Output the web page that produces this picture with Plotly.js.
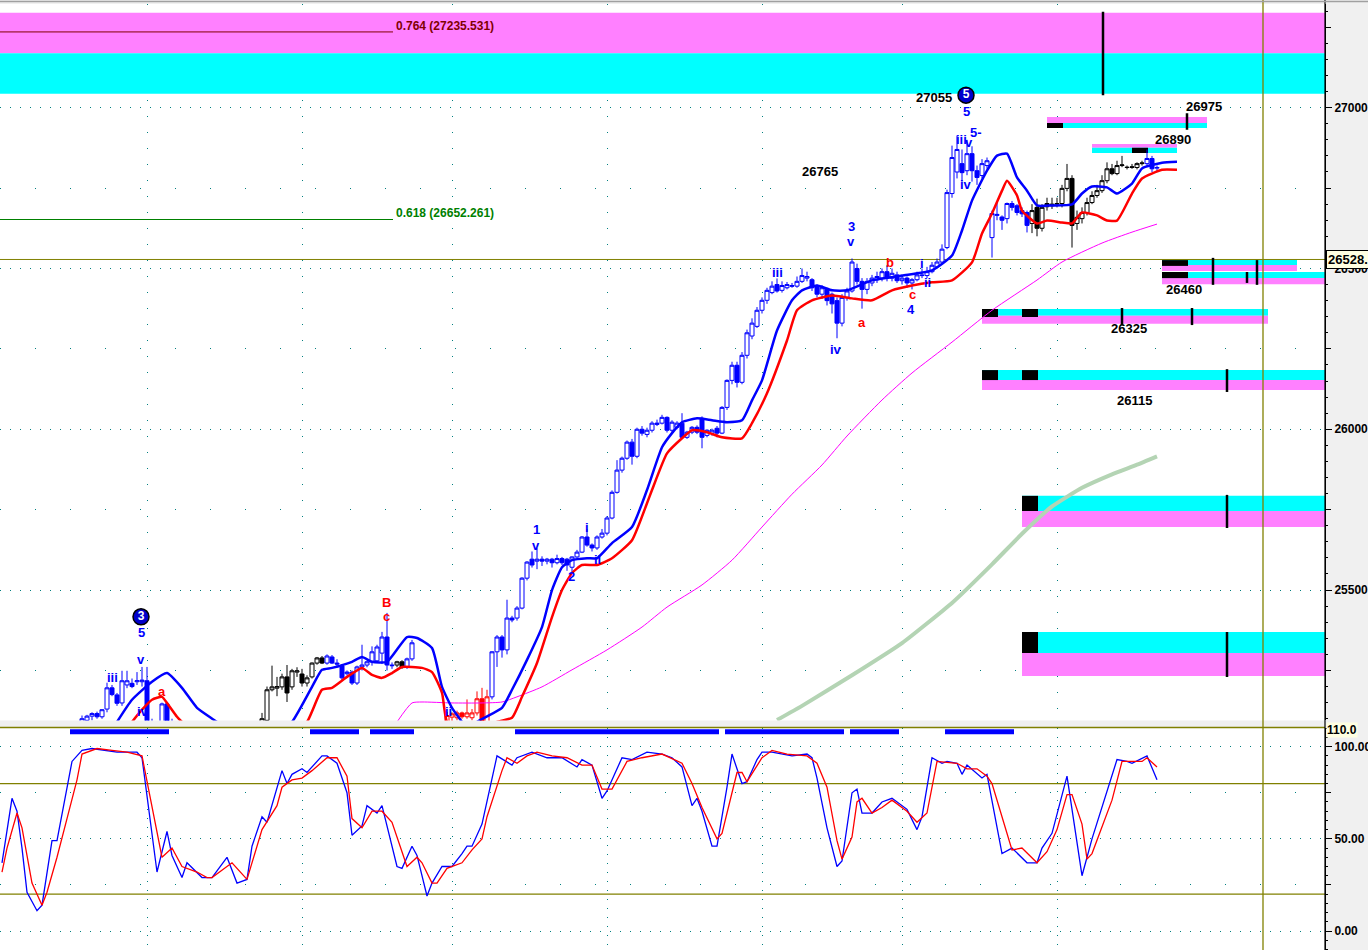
<!DOCTYPE html>
<html><head><meta charset="utf-8">
<script src="https://cdn.plot.ly/plotly-3.0.1.min.js"></script>
<style>html,body{margin:0;padding:0;background:#f0f0f0;}#chart{width:1368px;height:950px;}</style>
</head><body><div id="chart"></div>
<script>
// ---------- price bars (index 0..231) ----------
const barOpen = [
24980,24990,25010,25020,25015,24990,24975,24965,24955,24960,
24975,24990,25000,25020,25040,25060,25090,25095,25108,25116,
25106,25130,25196,25174,25149,25205,25210,25215,25215,25218,
25060,25040,25090,25146,25090,25030,25020,25010,25025,25010,
25000,24995,24990,24995,25015,25020,25030,25010,24995,25000,
25025,25050,25070,25095,25190,25195,25199,25230,25199,25245,
25239,25211,25230,25273,25289,25273,25292,25273,25264,25240,
25245,25211,25261,25267,25277,25280,25304,25354,25267,25267,
25277,25261,25286,25070,25060,25045,25030,25040,25060,25075,
25105,25103,25118,25106,25103,25118,25162,25090,25168,25308,
25354,25314,25413,25413,25444,25537,25596,25590,25596,25590,
25596,25585,25598,25596,25571,25603,25618,25665,25640,25631,
25665,25677,25724,25804,25873,25910,25960,25916,26000,25984,
25997,26015,26019,26037,25997,26006,26019,25975,25991,26006,
26034,25981,25988,26003,25988,26068,26152,26199,26146,26230,
26290,26320,26370,26401,26425,26450,26432,26440,26447,26445,
26460,26470,26465,26445,26420,26435,26420,26400,26330,26410,
26430,26500,26460,26435,26455,26465,26470,26490,26470,26480,
26462,26470,26455,26465,26480,26478,26490,26505,26520,26565,
26733,26800,26826,26804,26857,26804,26789,26820,26596,26665,
26660,26655,26702,26695,26680,26674,26640,26690,26625,26702,
26695,26700,26702,26749,26780,26640,26655,26674,26705,26727,
26742,26773,26810,26795,26820,26815,26814,26814,26826,26826,
26842,26812];
const barHigh = [
25000,25015,25030,25028,25020,24995,24980,24970,24968,24980,
24995,25005,25025,25045,25065,25080,25110,25112,25120,25122,
25130,25212,25205,25180,25249,25249,25225,25245,25261,25261,
25100,25080,25150,25150,25100,25050,25040,25035,25040,25020,
25015,25010,25005,25020,25030,25040,25035,25020,25010,25030,
25055,25080,25118,25200,25265,25230,25240,25267,25255,25260,
25255,25235,25275,25292,25295,25300,25298,25285,25270,25250,
25250,25265,25330,25280,25325,25330,25370,25429,25275,25280,
25282,25290,25345,25080,25075,25060,25050,25070,25080,25121,
25120,25125,25122,25160,25130,25185,25196,25190,25310,25360,
25360,25470,25420,25450,25540,25590,25620,25630,25605,25600,
25600,25610,25603,25600,25605,25625,25668,25690,25645,25670,
25690,25730,25810,25904,25915,25965,25970,26005,26010,26005,
26025,26030,26045,26040,26028,26025,26050,25995,26010,26012,
26040,26000,26002,26010,26072,26155,26210,26210,26240,26310,
26345,26380,26410,26440,26460,26469,26460,26458,26455,26475,
26500,26490,26470,26450,26448,26440,26425,26410,26420,26440,
26531,26515,26470,26470,26480,26490,26500,26510,26500,26490,
26478,26475,26470,26490,26500,26505,26520,26531,26575,26745,
26882,26913,26870,26900,26880,26820,26840,26845,26680,26705,
26665,26705,26710,26700,26690,26680,26700,26717,26700,26720,
26720,26720,26760,26825,26790,26680,26690,26720,26740,26760,
26790,26830,26825,26835,26850,26820,26825,26830,26835,26870,
26850,26820];
const barLow = [
24970,24985,25005,25005,24985,24970,24960,24945,24950,24955,
24970,24980,24995,25015,25035,25055,25070,25080,25095,25100,
25100,25120,25170,25140,25140,25195,25195,25205,25200,25030,
25020,25000,25080,25080,25020,25010,25000,25000,25005,24990,
24985,24980,24975,24990,25005,25010,25000,24990,24985,24995,
25020,25040,25060,25080,25185,25170,25190,25152,25190,25230,
25200,25200,25225,25268,25270,25268,25270,25260,25220,25235,
25205,25205,25250,25260,25265,25275,25270,25250,25255,25260,
25255,25255,25280,25040,25030,25020,25015,25030,25040,25060,
25090,25095,25100,25100,25095,25110,25080,25085,25160,25261,
25290,25300,25400,25405,25440,25530,25570,25565,25575,25580,
25570,25580,25578,25560,25555,25600,25615,25635,25620,25625,
25660,25670,25720,25800,25865,25905,25890,25910,25980,25975,
25990,26010,26015,25990,25990,26000,25970,25970,25985,25985,
25941,25975,25980,25975,25985,26060,26140,26130,26140,26220,
26280,26315,26360,26390,26420,26425,26425,26435,26440,26440,
26455,26460,26430,26410,26405,26385,26360,26283,26320,26400,
26425,26450,26375,26420,26445,26455,26460,26460,26460,26455,
26450,26440,26435,26460,26470,26470,26485,26500,26515,26560,
26720,26780,26770,26790,26770,26760,26780,26810,26534,26650,
26620,26640,26680,26665,26660,26612,26610,26600,26615,26680,
26685,26690,26690,26740,26565,26620,26640,26665,26700,26720,
26735,26765,26790,26790,26815,26808,26810,26808,26820,26820,
26800,26800];
const barClose = [
24990,25010,25020,25015,24990,24975,24965,24955,24960,24975,
24990,25000,25020,25040,25060,25075,25100,25108,25116,25106,
25128,25196,25175,25148,25218,25218,25200,25218,25220,25060,
25040,25070,25146,25090,25030,25020,25010,25025,25010,25000,
24995,24990,24995,25015,25020,25030,25010,24995,25000,25025,
25050,25070,25100,25190,25199,25200,25230,25180,25249,25249,
25211,25227,25273,25289,25273,25295,25273,25270,25227,25245,
25211,25261,25267,25277,25308,25323,25354,25267,25265,25277,
25261,25286,25336,25060,25045,25030,25040,25060,25075,25110,
25115,25118,25106,25118,25118,25162,25090,25168,25308,25354,
25314,25413,25407,25444,25537,25587,25578,25596,25590,25596,
25585,25598,25585,25578,25603,25618,25665,25640,25631,25665,
25677,25724,25804,25873,25910,25960,25916,26000,25988,25997,
26019,26019,26037,25997,26022,26019,25975,25991,26006,25991,
25975,25997,25997,25988,26068,26152,26199,26146,26230,26300,
26330,26370,26401,26432,26445,26430,26447,26450,26445,26460,
26478,26475,26440,26420,26440,26400,26390,26330,26410,26430,
26520,26460,26435,26460,26470,26475,26490,26470,26485,26462,
26470,26455,26465,26480,26478,26490,26510,26520,26560,26736,
26845,26870,26798,26857,26804,26783,26826,26835,26671,26668,
26650,26702,26690,26674,26670,26634,26680,26625,26690,26692,
26700,26702,26749,26780,26634,26659,26674,26705,26727,26742,
26773,26810,26795,26820,26822,26814,26816,26826,26828,26842,
26810,26814];
// colour regime of the bars: [first bar, last bar, group]
const colorRuns = [[0,34,'b'],[35,64,'k'],[65,78,'b'],[79,80,'k'],[81,82,'b'],[83,87,'k'],[88,97,'r'],[98,205,'b'],[206,228,'k'],[229,231,'b']];

// ---------- indicator lines: [bar, value] ----------
const upperBand = [[23,25090],[26,25159],[30,25215],[33,25242],[36,25196],[39,25134],[43,25090],[47,25040],[54,25040],[58,25090],[62,25199],[64,25252],[66,25258],[70,25277],[72,25292],[74,25277],[77,25277],[81,25354],[83,25351],[86,25320],[88,25199],[90,25134],[92,25090],[93,25065],[94,25070],[95,25090],[100,25134],[102,25190],[105,25283],[108,25385],[110,25500],[112,25571],[114,25593],[117,25599],[119,25599],[122,25646],[126,25696],[129,25811],[132,25944],[134,25988],[136,26022],[139,26034],[142,26028],[145,26022],[148,26028],[150,26090],[152,26152],[155,26307],[158,26401],[160,26432],[163,26447],[166,26432],[169,26432],[174,26463],[180,26478],[186,26494],[190,26540],[192,26618],[194,26711],[197,26804],[199,26851],[201,26857],[203,26783],[205,26742],[207,26696],[210,26696],[214,26699],[216,26733],[218,26755],[221,26752],[223,26733],[226,26764],[228,26811],[232,26829],[235,26832]];
const lowerBand = [[26,25090],[28,25128],[30,25159],[32,25168],[33,25149],[35,25106],[36,25090],[40,25040],[57,25040],[61,25090],[64,25190],[66,25196],[69,25230],[72,25258],[74,25236],[76,25227],[78,25242],[80,25261],[84,25258],[86,25245],[88,25180],[89,25090],[93,25040],[99,25090],[102,25103],[104,25168],[107,25273],[110,25416],[112,25500],[114,25553],[116,25578],[119,25578],[122,25599],[126,25655],[129,25770],[130,25811],[133,25925],[136,25972],[138,25997],[141,25991],[144,25975],[148,25972],[150,26019],[153,26112],[157,26276],[159,26370],[162,26401],[166,26416],[170,26407],[174,26401],[178,26432],[182,26447],[186,26457],[190,26463],[194,26519],[196,26609],[198,26671],[200,26742],[201,26773],[203,26727],[204,26680],[207,26640],[209,26649],[212,26643],[214,26640],[216,26674],[219,26665],[221,26649],[223,26649],[226,26733],[228,26780],[232,26807],[235,26807]];
const slowMA = [[79,25090],[82,25149],[84,25152],[90,25149],[96,25149],[100,25152],[103,25168],[108,25199],[114,25252],[121,25314],[128,25385],[133,25447],[140,25516],[146,25593],[152,25696],[158,25798],[164,25889],[169,25979],[176,26091],[182,26175],[190,26271],[198,26370],[207,26464],[212,26520],[220,26579],[226,26613],[231,26638]];
const longMA = [[155,25096],[160,25140],[170,25235],[180,25335],[190,25460],[198,25580],[204,25675],[210,25760],[216,25818],[222,25860],[227,25890],[231,25916]];

// ---------- stochastic ----------
const stochK = [[0,37],[2,72],[3,65],[4,45],[5,21],[7,11],[8,14],[10,49],[11,49],[14,92],[16,98],[18,99],[23,97],[27,97],[28,94],[31,32],[33,54],[34,41],[36,29],[37,37],[40,29],[42,29],[45,40],[47,26],[49,28],[50,46],[52,62],[53,59],[56,87],[57,80],[58,85],[60,88],[61,86],[63,92],[64,95],[65,95],[67,91],[69,75],[70,52],[72,57],[73,68],[75,64],[76,68],[79,35],[80,34],[82,46],[83,41],[85,19],[86,26],[88,35],[90,35],[92,42],[93,46],[94,46],[96,58],[99,95],[102,90],[103,94],[106,97],[109,94],[112,94],[115,89],[116,93],[118,90],[120,72],[121,76],[124,94],[126,93],[129,97],[132,96],[134,94],[136,89],[138,68],[139,72],[140,65],[142,46],[143,46],[145,78],[146,96],[148,80],[149,81],[151,93],[152,97],[154,97],[158,95],[161,96],[162,94],[163,83],[165,56],[167,35],[168,38],[170,75],[171,77],[172,64],[174,64],[176,70],[178,72],[181,66],[183,55],[184,62],[186,94],[188,91],[189,92],[191,91],[192,85],[193,90],[196,83],[197,85],[200,42],[202,45],[205,37],[207,37],[208,45],[210,53],[213,84],[216,30],[218,50],[223,93],[225,92],[226,91],[229,95],[231,82]];
const stochD = [[0,32],[1,45],[3,64],[4,56],[6,26],[8,14],[9,21],[11,40],[13,61],[15,82],[16,96],[19,99],[22,98],[25,97],[28,95],[29,81],[31,52],[32,40],[34,45],[36,35],[39,32],[41,29],[42,29],[46,37],[49,28],[52,55],[55,68],[56,78],[58,82],[60,83],[62,87],[65,94],[67,94],[69,84],[70,61],[72,56],[74,65],[76,65],[78,59],[81,35],[83,40],[84,37],[86,26],[87,26],[89,34],[92,37],[94,44],[96,50],[97,62],[100,87],[101,94],[103,91],[105,95],[107,97],[110,95],[113,94],[116,90],[118,90],[120,77],[122,77],[125,92],[128,94],[132,96],[136,91],[138,80],[140,67],[143,50],[144,53],[146,75],[147,86],[148,86],[149,81],[152,94],[154,98],[157,96],[161,95],[163,91],[165,78],[167,49],[168,39],[170,51],[171,70],[172,72],[174,64],[176,67],[178,71],[181,65],[183,59],[185,64],[187,92],[191,91],[193,88],[195,88],[197,84],[198,80],[200,62],[202,44],[204,45],[207,37],[209,43],[211,55],[213,74],[214,74],[216,58],[217,39],[218,42],[222,71],[224,92],[228,92],[229,94],[231,89]];
const signalStart = [14,62,74,103,145,170,189];
const signalEnd   = [33,71,82,143,168,179,202];

// ---------- levels / zones ----------
const currentPrice = 26528;
const stochTop = 110.0;
const fibLevels = [27235.531, 26652.261];
const fibNames  = ['0.764 (27235.531)', '0.618 (26652.261)'];
const fibColors = ['#800000', '#008000'];
const fibEndBar = 78.2;
const zoneStart = [-0.4, 209, 218, 232, 232, 196, 196, 204, 204];
const zoneEnd   = [264.6, 241, 235, 259, 264.6, 253.2, 264.6, 264.6, 264.6];
const zoneHi    = [27295, 26971, 26887, 26526, 26489, 26374, 26184, 25793, 25370];
const zoneMid   = [27169, 26952, 26875, 26511, 26470, 26353, 26153, 25746, 25304];
const zoneLo    = [27043, 26937, 26859, 26492, 26451, 26328, 26122, 25696, 25233];
const zoneUpper = ['m','m','m','c','c','c','c','c','c'];
const blockStart = [209, 226, 232, 232, 196, 204, 196, 204, 204, 204];
const blockEnd   = [212.2, 229.2, 237.2, 237.2, 199.2, 207.2, 199.2, 207.2, 207.2, 207.2];
const blockHi    = [26952, 26875, 26526, 26489, 26374, 26374, 26184, 26184, 25793, 25370];
const blockLo    = [26937, 26859, 26508, 26470, 26349, 26349, 26153, 26153, 25746, 25304];
const markBar = [220.2, 237, 242.2, 249, 251, 224, 238, 245, 245, 245];
const markHi  = [27298, 26983, 26533, 26489, 26526, 26377, 26377, 26187, 25796, 25370];
const markLo  = [27039, 26931, 26449, 26455, 26449, 26324, 26324, 26116, 25693, 25230];
const gridBars = [29, 60, 90, 121, 152, 180, 211];
const cursorBar = 252.2;

// ---------- wave labels ----------
const labelText  = ['27055','5','26765','26975','26890','26460','26325','26115','iii','v','5-','iv','3','v','iii','iv','a','b','c','4','i','ii','1','v','i','2','ii','B','c','5','v','iii','a','iv','ii'];
const labelBar   = [186.4,192.8,163.6,240.4,234.2,236.4,225.4,226.4,191.8,193.4,194.8,192.8,169.8,169.8,155,166.8,172,177.6,182,181.8,184,185,106.8,106.8,117,113.8,119,76.8,76.8,27.8,27.8,22,32,28.2,89.2];
const labelPrice = [27033,26989,26803,27005,26900,26436,26312,26091,26900,26893,26924,26762,26629,26585,26489,26247,26331,26520,26418,26371,26517,26455,25687,25640,25696,25541,25594,25460,25417,25367,25283,25227,25184,25122,25122];
const labelColor = ['k','b','k','k','k','k','k','k','b','b','b','b','b','b','b','b','r','r','r','b','b','b','b','b','b','b','b','r','r','b','b','b','r','b','b'];
const circleText  = ['5','3'];
const circleBar   = [192.8, 27.8];
const circlePrice = [27039, 25417];

// ---------- drawing ----------
const FONT = 'Liberation Sans, Arial, sans-serif';
const COL = {b:'#0000ff', k:'#000000', r:'#ff0000'};
const PINK = '#ff80ff', CYAN = '#00ffff', OLIVE = '#808000', TEAL = '#008080';

const barColor = [];
colorRuns.forEach(([a, b, g]) => { for (let i = a; i <= b; i++) barColor[i] = g; });

const traces = [];
traces.push({type:'scatter', mode:'lines', x:longMA.map(p=>p[0]), y:longMA.map(p=>p[1]), line:{color:'#b4d4b4', width:4, shape:'spline', smoothing:0.4}, xaxis:'x', yaxis:'y', hoverinfo:'skip'});
traces.push({type:'scatter', mode:'lines', x:slowMA.map(p=>p[0]), y:slowMA.map(p=>p[1]), line:{color:'#ff00ff', width:1, shape:'spline', smoothing:0.6}, xaxis:'x', yaxis:'y', hoverinfo:'skip'});
['k','r','b'].forEach(g => {
  const idx = [];
  barOpen.forEach((_, i) => { if (barColor[i] === g) idx.push(i); });
  traces.push({type:'candlestick', x:idx, open:idx.map(i=>barOpen[i]), high:idx.map(i=>barHigh[i]), low:idx.map(i=>barLow[i]), close:idx.map(i=>barClose[i]),
    increasing:{line:{color:COL[g], width:1}, fillcolor:'#ffffff'}, decreasing:{line:{color:COL[g], width:1}, fillcolor:COL[g]},
    whiskerwidth:0, xaxis:'x', yaxis:'y', hoverinfo:'skip', showlegend:false});
});
traces.push({type:'scatter', mode:'lines', x:upperBand.map(p=>p[0]), y:upperBand.map(p=>p[1]), line:{color:'#0000ff', width:2.5, shape:'spline', smoothing:0.5}, xaxis:'x', yaxis:'y', hoverinfo:'skip'});
traces.push({type:'scatter', mode:'lines', x:lowerBand.map(p=>p[0]), y:lowerBand.map(p=>p[1]), line:{color:'#ff0000', width:2.5, shape:'spline', smoothing:0.5}, xaxis:'x', yaxis:'y', hoverinfo:'skip'});
traces.push({type:'scatter', mode:'markers+text', x:circleBar, y:circlePrice, text:circleText.map(t=>'<b>'+t+'</b>'), textposition:'middle center',
  textfont:{family:FONT, size:12, color:'#ffffff'}, marker:{size:16, color:'#0000cc', line:{color:'#000000', width:1.5}}, xaxis:'x', yaxis:'y', hoverinfo:'skip', cliponaxis:false});
traces.push({type:'scatter', mode:'lines', x:stochK.map(p=>p[0]), y:stochK.map(p=>p[1]), line:{color:'#0000ff', width:1.3}, xaxis:'x2', yaxis:'y2', hoverinfo:'skip'});
traces.push({type:'scatter', mode:'lines', x:stochD.map(p=>p[0]), y:stochD.map(p=>p[1]), line:{color:'#ff0000', width:1.3}, xaxis:'x2', yaxis:'y2', hoverinfo:'skip'});
traces.push({type:'scatter', mode:'markers', x:[0], y:[null], xaxis:'x', yaxis:'y3', hoverinfo:'skip'});
traces.push({type:'scatter', mode:'markers', x:[0], y:[null], xaxis:'x2', yaxis:'y4', hoverinfo:'skip'});

const shapes = [];
zoneStart.forEach((s, k) => {
  const up = zoneUpper[k] === 'm' ? PINK : CYAN, lo = zoneUpper[k] === 'm' ? CYAN : PINK;
  shapes.push({type:'rect', layer:'between', xref:'x', yref:'y', x0:s, x1:zoneEnd[k], y0:zoneMid[k], y1:zoneHi[k], fillcolor:up, line:{width:0}});
  shapes.push({type:'rect', layer:'between', xref:'x', yref:'y', x0:s, x1:zoneEnd[k], y0:zoneLo[k], y1:zoneMid[k], fillcolor:lo, line:{width:0}});
});
blockStart.forEach((s, k) => {
  shapes.push({type:'rect', layer:'between', xref:'x', yref:'y', x0:s, x1:blockEnd[k], y0:blockLo[k], y1:blockHi[k], fillcolor:'#000000', line:{width:0}});
});
markBar.forEach((b, k) => {
  shapes.push({type:'line', layer:'between', xref:'x', yref:'y', x0:b, x1:b, y0:markLo[k], y1:markHi[k], line:{color:'#000000', width:2.5}});
});
fibLevels.forEach((v, k) => {
  shapes.push({type:'line', layer:'between', xref:'x', yref:'y', x0:-0.4, x1:fibEndBar, y0:v, y1:v, line:{color:fibColors[k], width:1}});
});
shapes.push({type:'line', layer:'between', xref:'paper', yref:'y', x0:0, x1:1, y0:currentPrice, y1:currentPrice, line:{color:OLIVE, width:1}});
[20, 80].forEach(v => shapes.push({type:'line', layer:'between', xref:'paper', yref:'y2', x0:0, x1:1, y0:v, y1:v, line:{color:OLIVE, width:1.3}}));
shapes.push({type:'line', xref:'paper', yref:'y2 domain', x0:0, x1:1, y0:1, y1:1, line:{color:OLIVE, width:1.3}});
signalStart.forEach((s, k) => {
  shapes.push({type:'rect', xref:'x2', yref:'y2', x0:s-0.4, x1:signalEnd[k]+0.4, y0:106.8, y1:109.4, fillcolor:'#0000ff', line:{width:0}});
});
shapes.push({type:'line', xref:'x', yref:'paper', x0:cursorBar, x1:cursorBar, y0:0, y1:1, line:{color:OLIVE, width:1.3}});
shapes.push({type:'line', xref:'paper', yref:'paper', x0:1, x1:1, y0:0, y1:1, line:{color:'#000000', width:1.2}});
shapes.push({type:'line', xref:'paper', yref:'paper', x0:0, x1:1.05, y0:0.9985, y1:0.9985, line:{color:'#a0a0a0', width:1.5}});

const annotations = [];
fibLevels.forEach((v, k) => {
  annotations.push({xref:'x', yref:'y', x:fibEndBar + 0.2, y:v + 19, text:'<b>'+fibNames[k]+'</b>', showarrow:false, xanchor:'left', yanchor:'middle',
    font:{family:FONT, size:12, color:fibColors[k]}});
});
labelText.forEach((t, k) => {
  annotations.push({xref:'x', yref:'y', x:labelBar[k], y:labelPrice[k], text:'<b>'+t+'</b>', showarrow:false, xanchor:'center', yanchor:'middle',
    font:{family:FONT, size:13, color:COL[labelColor[k]]}});
});
annotations.push({xref:'paper', yref:'y', x:1, y:currentPrice, xanchor:'left', yanchor:'middle', xshift:1, text:'<b>26528.</b>', showarrow:false,
  bgcolor:'#ffffe1', bordercolor:'#000000', borderwidth:1, borderpad:1, font:{family:FONT, size:13, color:'#000'}});
annotations.push({xref:'paper', yref:'y2', x:1, y:stochTop, xanchor:'left', yanchor:'middle', xshift:1, yshift:-2, text:'<b>110.0</b>', showarrow:false,
  bgcolor:'#ffffe1', borderpad:0, font:{family:FONT, size:12, color:'#000'}});

const tickFont = {family:FONT, size:12, color:'#000000', weight:'bold'};
const xBase = {range:[-0.4, 264.6], tickmode:'array', tickvals:gridBars, showticklabels:false, ticks:'', showgrid:true,
  gridcolor:TEAL, gridwidth:1, zeroline:false, showline:false, fixedrange:true};
const layout = {
  width:1368, height:950, margin:{l:0, r:43, t:0, b:0, pad:0},
  paper_bgcolor:'#f0f0f0', plot_bgcolor:'#ffffff', showlegend:false, hovermode:false,
  boxmode:'overlay', boxgap:0.2, boxgroupgap:0,
  xaxis:Object.assign({}, xBase, {anchor:'y', domain:[0,1], griddash:'1px,15px', rangeslider:{visible:false}}),
  xaxis2:Object.assign({}, xBase, {anchor:'y2', domain:[0,1], matches:'x', griddash:'1px,8px', rangeslider:{visible:false}}),
  yaxis:{domain:[0.2416, 0.9958], range:[25094.5, 27322.4], side:'right', anchor:'x', tickmode:'array',
    tickvals:[25500,26000,26500,27000], ticktext:['25500','26000','26500','27000'], ticks:'outside', ticklen:6, tickwidth:1, tickcolor:'#000',
    showline:true, linecolor:'#000', linewidth:1, showgrid:true, gridcolor:TEAL, griddash:'1px,9px', zeroline:false, tickfont:tickFont, automargin:false, fixedrange:true,
    minor:{tickmode:'array', tickvals:[25250,25750,26250,26750,27250], ticks:'outside', ticklen:5, tickcolor:'#000', showgrid:true, gridcolor:TEAL, griddash:'1px,34px'}},
  yaxis3:{overlaying:'y', side:'right', anchor:'x', range:[25094.5, 27322.4], tick0:0, dtick:50, ticks:'outside', ticklen:2, tickcolor:'#000',
    showticklabels:false, showgrid:false, zeroline:false, showline:false, fixedrange:true},
  yaxis2:{domain:[0, 0.2342], range:[-10.3, 110.4], side:'right', anchor:'x2', tickmode:'array', tickvals:[0,50,100], ticktext:['0.00','50.00','100.00'],
    ticks:'outside', ticklen:6, tickcolor:'#000', showline:true, linecolor:'#000', linewidth:1, showgrid:true, gridcolor:TEAL, griddash:'1px,9px',
    zeroline:false, tickfont:tickFont, automargin:false, fixedrange:true,
    minor:{tickmode:'array', tickvals:[25,75], ticks:'outside', ticklen:5, tickcolor:'#000', showgrid:true, gridcolor:TEAL, griddash:'1px,34px'}},
  yaxis4:{overlaying:'y2', side:'right', anchor:'x2', range:[-10.3, 110.4], tick0:0, dtick:5, ticks:'outside', ticklen:2, tickcolor:'#000',
    showticklabels:false, showgrid:false, zeroline:false, showline:false, fixedrange:true},
  shapes:shapes, annotations:annotations
};
Plotly.newPlot('chart', traces, layout, {displayModeBar:false, staticPlot:true});
</script></body></html>
